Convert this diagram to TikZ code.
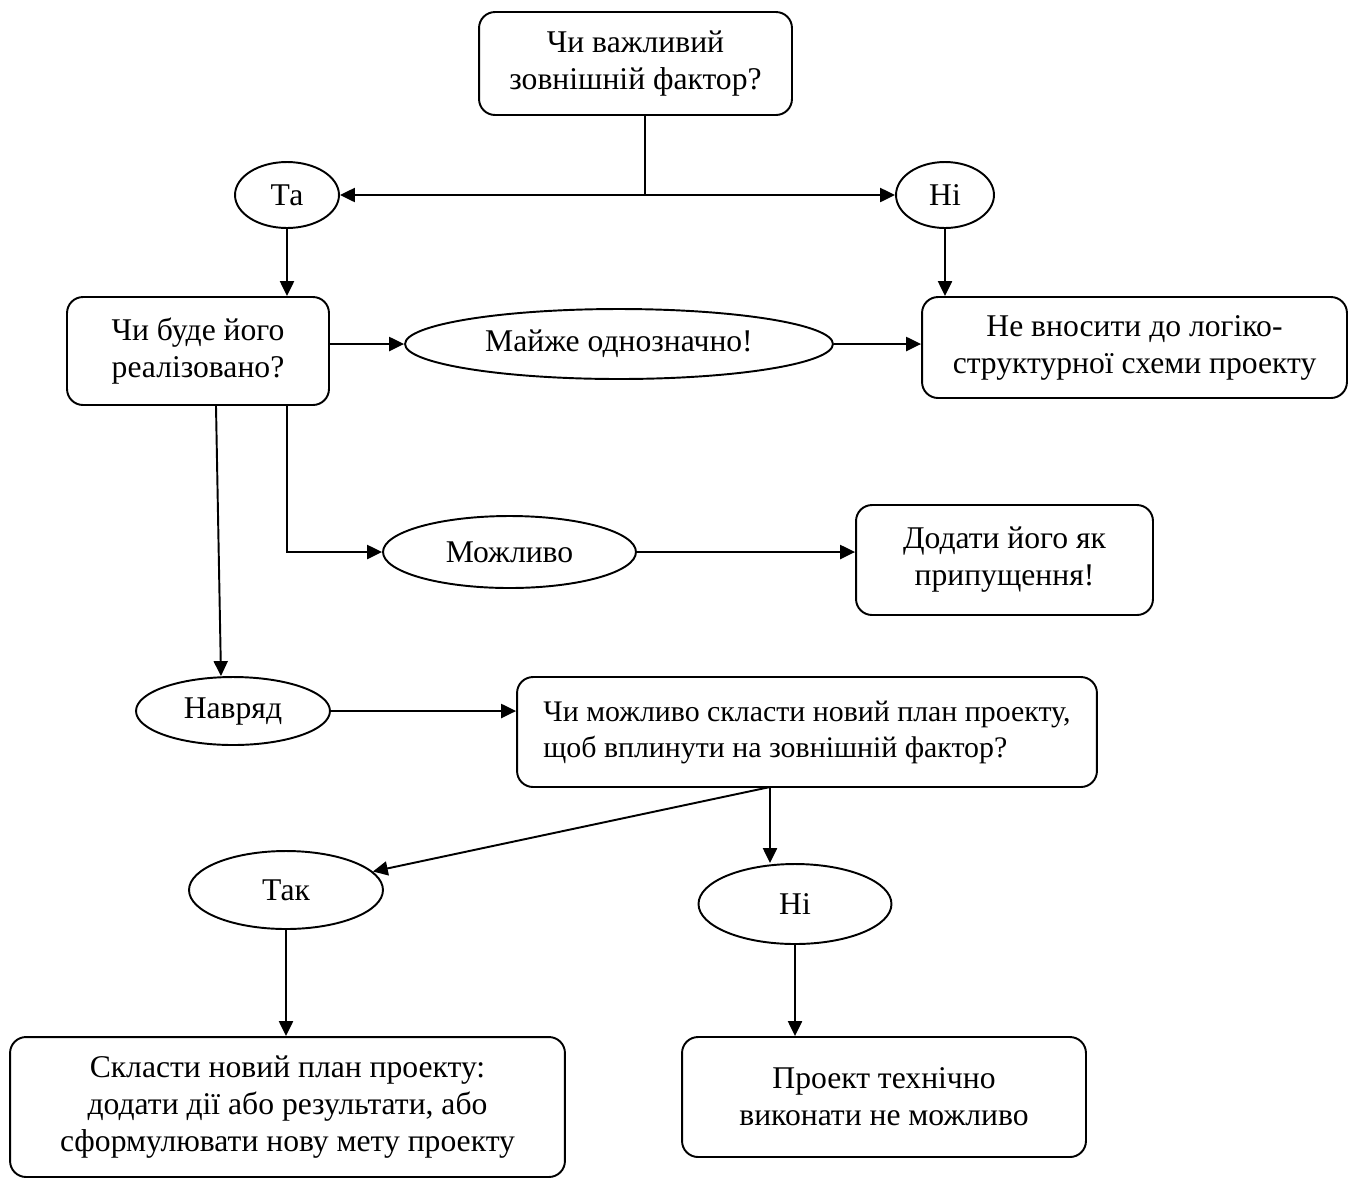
\documentclass[tikz,border=0pt]{standalone}
\usepackage{fontspec}
\setmainfont{Liberation Serif}
\usetikzlibrary{shapes.geometric,arrows.meta}
\begin{document}
\begin{tikzpicture}[x=0.02cm,y=-0.02cm,
    font=\fontsize{18}{21}\selectfont,
    box/.style={draw,line width=1.1pt,rounded corners=0.32cm,align=center,inner sep=0pt},
    oval/.style={draw,ellipse,line width=1.1pt,inner sep=0pt},
    link/.style={line width=1.1pt},
    arr/.style={line width=1.1pt,-{Triangle[length=8.5pt,width=8pt]}}]
    \useasboundingbox (0,0) rectangle (1349,1178);
    \node[box,minimum width=6.26cm,minimum height=2.06cm] (q1) at (635.5,63.5) {Чи важливий\\зовнішній фактор?};
    \node[oval,minimum width=2.08cm,minimum height=1.32cm] (yes1) at (287,195) {Та};
    \node[oval,minimum width=1.96cm,minimum height=1.32cm] (no1) at (945,195) {Ні};
    \node[box,minimum width=5.24cm,minimum height=2.16cm] (q2) at (198,351) {Чи буде його\\реалізовано?};
    \node[oval,minimum width=8.56cm,minimum height=1.4cm] (sure) at (619,344) {Майже однозначно!};
    \node[box,minimum width=8.5cm,minimum height=2.02cm] (skip) at (1134.5,347.5) {Не вносити до логіко-\\структурної схеми проекту};
    \node[oval,minimum width=5.06cm,minimum height=1.44cm] (maybe) at (509.5,552) {Можливо};
    \node[box,minimum width=5.94cm,minimum height=2.2cm] (assume) at (1004.5,560) {Додати його як\\припущення!};
    \node[oval,minimum width=3.88cm,minimum height=1.36cm] (unlikely) at (233,711) {\raisebox{-3pt}{Навряд}};
    \node[box,align=left,font=\fontsize{17}{20.5}\selectfont,minimum width=11.6cm,minimum height=2.2cm] (q3) at (807,732) {Чи можливо скласти новий план проекту,\\щоб вплинути на зовнішній фактор?};
    \node[oval,minimum width=3.88cm,minimum height=1.56cm] (yes2) at (286,890) {Так};
    \node[oval,minimum width=3.86cm,minimum height=1.6cm] (no2) at (795,904) {Ні};
    \node[box,minimum width=11.1cm,minimum height=2.8cm] (plan) at (287.5,1107) {Скласти новий план проекту:\\додати дії або результати, або\\сформулювати нову мету проекту};
    \node[box,minimum width=8.08cm,minimum height=2.4cm] (fail) at (884,1097) {Проект технічно\\виконати не можливо};
    \coordinate (split) at (645,195);
    \coordinate (branch) at (770,787);
    \draw[link] (split |- q1.south) -- (split);
    \draw[arr] (split) -- (yes1);
    \draw[arr] (split) -- (no1);
    \draw[arr] (yes1) -- (yes1 |- q2.north);
    \draw[arr] (no1) -- (no1 |- skip.north);
    \draw[arr] (q2.east |- sure.west) -- (sure.west);
    \draw[arr] (sure.east) -- (sure.east -| skip.west);
    \draw[arr] (yes1 |- q2.south) |- (maybe.west);
    \draw[arr] (maybe.east) -- (maybe.east -| assume.west);
    \draw[arr] ([xshift=0.36cm]q2.south) -- ([xshift=-0.24cm]unlikely.north);
    \draw[arr] (unlikely.east) -- (unlikely.east -| q3.west);
    \draw[arr] (branch) -- (yes2);
    \draw[arr] (branch) -- (branch |- no2.north);
    \draw[arr] (yes2) -- (yes2 |- plan.north);
    \draw[arr] (no2) -- (no2 |- fail.north);
\end{tikzpicture}
\end{document}
